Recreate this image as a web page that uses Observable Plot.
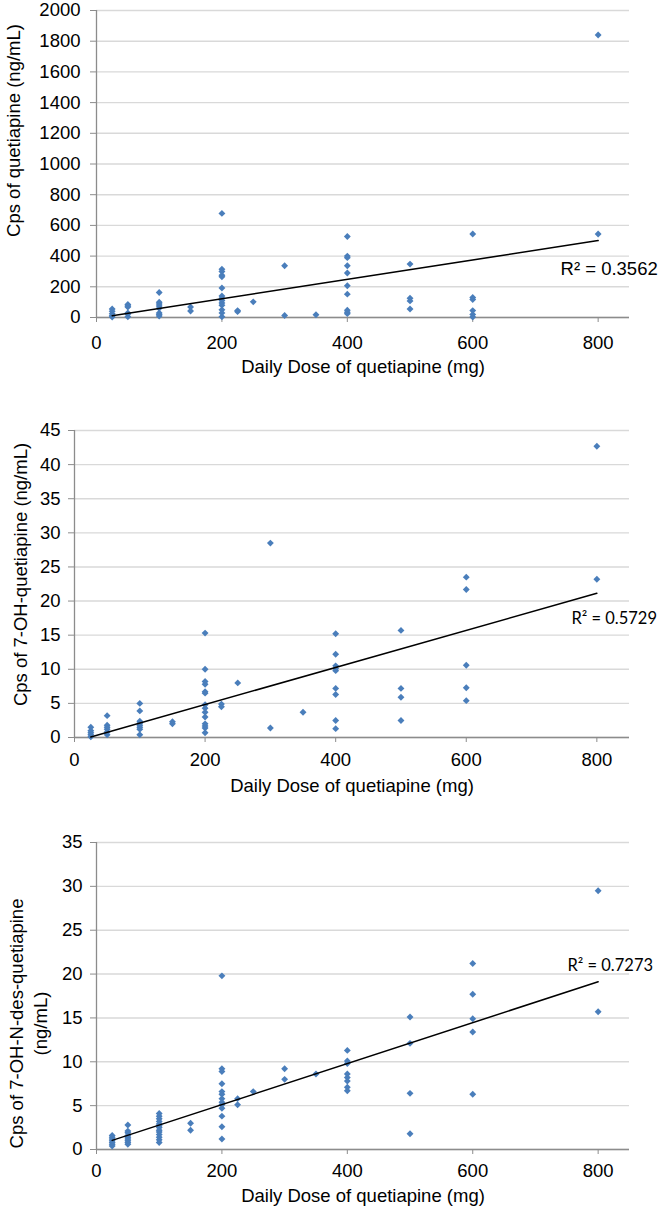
<!DOCTYPE html>
<html><head><meta charset="utf-8">
<script src="https://cdn.jsdelivr.net/npm/d3@7"></script>
<script src="https://cdn.jsdelivr.net/npm/@observablehq/plot@0.6"></script>
<style>body{margin:0;background:#fff} #charts svg{display:block}</style>
</head><body><div id="charts"></div>
<script>
// Daily doses (mg) – x categories shared by all panels
const doses = [25, 50, 100, 150, 200, 225, 250, 300, 350, 400, 500, 600, 800];

// Panel 1: Cps of quetiapine (ng/mL), grouped by dose
const quetiapine = [
  [55, 40, 25, 12, 3],
  [85, 75, 68, 30, 22, 5],
  [163, 100, 88, 75, 60, 30, 20, 10],
  [68, 42],
  [678, 315, 300, 275, 265, 192, 140, 125, 110, 95, 80, 50, 30, 5],
  [45, 38],
  [102],
  [337, 13],
  [18],
  [528, 400, 390, 337, 290, 207, 152, 48, 35, 25],
  [348, 125, 108, 55],
  [544, 130, 117, 45, 20, 3],
  [1840, 544]
];

// Panel 2: Cps of 7-OH-quetiapine (ng/mL)
const hydroxyQuetiapine = [
  [1.5, 1.0, 0.7, 0.4, 0.1],
  [3.2, 1.8, 1.5, 1.2, 0.8, 0.4],
  [5.0, 3.9, 2.4, 2.1, 1.8, 1.5, 1.2, 0.4],
  [2.3, 2.0],
  [15.3, 10.0, 8.2, 7.8, 6.7, 6.5, 4.8, 4.3, 3.7, 3.0, 2.0, 1.7, 1.4, 0.7],
  [4.9, 4.5],
  [8.0],
  [28.5, 1.4],
  [3.7],
  [15.2, 12.2, 10.5, 10.1, 9.8, 7.2, 6.3, 2.5, 1.3],
  [15.7, 7.2, 5.9, 2.5],
  [23.5, 21.7, 10.6, 7.3, 5.4],
  [42.7, 23.2]
];

// Panel 3: Cps of 7-OH-N-des-quetiapine (ng/mL)
const hydroxyDesQuetiapine = [
  [1.6, 1.4, 1.2, 1.0, 0.8, 0.6, 0.4],
  [2.8, 2.1, 1.9, 1.6, 1.4, 1.2, 1.0, 0.8, 0.6],
  [4.1, 3.8, 3.5, 3.2, 2.9, 2.7, 2.5, 2.2, 2.0, 1.7, 1.4, 1.1, 0.8],
  [3.0, 2.2],
  [19.8, 9.2, 8.9, 7.5, 6.6, 6.3, 5.8, 5.4, 5.1, 4.7, 3.8, 2.6, 1.2],
  [5.8, 5.1],
  [6.6],
  [9.2, 8.0],
  [8.6],
  [11.3, 10.1, 9.8, 8.6, 8.2, 7.8, 7.1, 6.7],
  [15.1, 12.1, 6.4, 1.8],
  [21.2, 17.7, 14.9, 13.4, 6.3],
  [29.5, 15.7]
];

// Tick values
const xTicks = [0, 200, 400, 600, 800];
const yTicksQ = [0, 200, 400, 600, 800, 1000, 1200, 1400, 1600, 1800, 2000];
const yTicksOH = [0, 5, 10, 15, 20, 25, 30, 35, 40, 45];
const yTicksDes = [0, 5, 10, 15, 20, 25, 30, 35];

// Texts
const xTitle = "Daily Dose of quetiapine (mg)";
const yTitles = ["Cps of quetiapine (ng/mL)", "Cps of 7-OH-quetiapine (ng/mL)", "Cps of 7-OH-N-des-quetiapine\n(ng/mL)"];
const r2Labels = ["R² = 0.3562", "R² = 0.5729", "R² = 0.7273"];

const ARIAL = "'Liberation Sans', Arial, sans-serif";
const CALIBRI = "Lato, 'Open Sans', sans-serif";
const BLUE = "#4a7ebb";
const AXIS = "#8c8c8c";
const GRID = "#d9d9d9";

function panel(values, cfg) {
  const rows = doses.flatMap((d, i) => values[i].map(v => ({dose: d, value: v})));
  return Plot.plot({
    width: 661, height: cfg.height,
    marginTop: cfg.mt, marginBottom: cfg.mb, marginLeft: cfg.ml, marginRight: 32,
    style: {fontFamily: ARIAL, fontSize: "18.5px", color: "#000", background: "#fff", overflow: "visible"},
    x: {domain: [0, 850]},
    y: {domain: [0, cfg.yTicks[cfg.yTicks.length - 1]]},
    marks: [
      Plot.gridY(cfg.yTicks, {stroke: GRID, strokeOpacity: 1, strokeWidth: 1.4}),
      Plot.ruleX([0], {stroke: AXIS, strokeWidth: 1.3}),
      Plot.ruleY([0], {stroke: AXIS, strokeWidth: 1.3}),
      Plot.axisY(cfg.yTicks, {tickSize: 6, tickPadding: cfg.yPad, stroke: AXIS, fill: "#000", tickFormat: d => String(d), label: null}),
      Plot.axisX(xTicks, {tickSize: 5, tickPadding: cfg.xPad, stroke: AXIS, fill: "#000", tickFormat: d => String(d), label: null}),
      Plot.dot(rows, {x: "dose", y: "value", symbol: "diamond2", r: 3.1, fill: BLUE, stroke: "none"}),
      Plot.linearRegressionY(rows, {x: "dose", y: "value", ci: 0, stroke: "#000", strokeWidth: 1.5}),
      Plot.text([cfg.r2], {x: () => cfg.r2x, y: () => cfg.r2y, text: d => d, textAnchor: "start", lineAnchor: "middle", fontFamily: cfg.r2Font, fontSize: cfg.r2Size}),
      Plot.text([xTitle], {frameAnchor: "bottom", dy: cfg.xTitleDy, textAnchor: "middle", lineAnchor: "bottom", text: d => d}),
      Plot.text([cfg.yTitle], {frameAnchor: "left", rotate: -90, dx: cfg.yTitleDx, dy: cfg.yTitleDy, textAnchor: "middle", lineAnchor: "middle", lineHeight: 1.26, text: d => d})
    ]
  });
}

const host = document.getElementById("charts");
host.append(panel(quetiapine, {
  height: 390, mt: 10, mb: 73, ml: 96, yTicks: yTicksQ, yPad: 10, xPad: 13,
  r2: r2Labels[0], r2x: 740, r2y: 318, r2Font: ARIAL, r2Size: 18.5,
  xTitleDy: 55, yTitle: yTitles[0], yTitleDx: -84, yTitleDy: -33.5
}));
host.append(panel(hydroxyQuetiapine, {
  height: 410, mt: 40, mb: 63, ml: 74, yTicks: yTicksOH, yPad: 8, xPad: 10,
  r2: r2Labels[1], r2x: 761, r2y: 17.4, r2Font: CALIBRI, r2Size: 16.5,
  xTitleDy: 54, yTitle: yTitles[1], yTitleDx: -55, yTitleDy: -9.5
}));
host.append(panel(hydroxyDesQuetiapine, {
  height: 412, mt: 42, mb: 63, ml: 96, yTicks: yTicksDes, yPad: 8, xPad: 9,
  r2: r2Labels[2], r2x: 751, r2y: 21.0, r2Font: CALIBRI, r2Size: 16.5,
  xTitleDy: 52, yTitle: yTitles[2], yTitleDx: -69, yTitleDy: 27.5
}));
</script>
</body></html>
